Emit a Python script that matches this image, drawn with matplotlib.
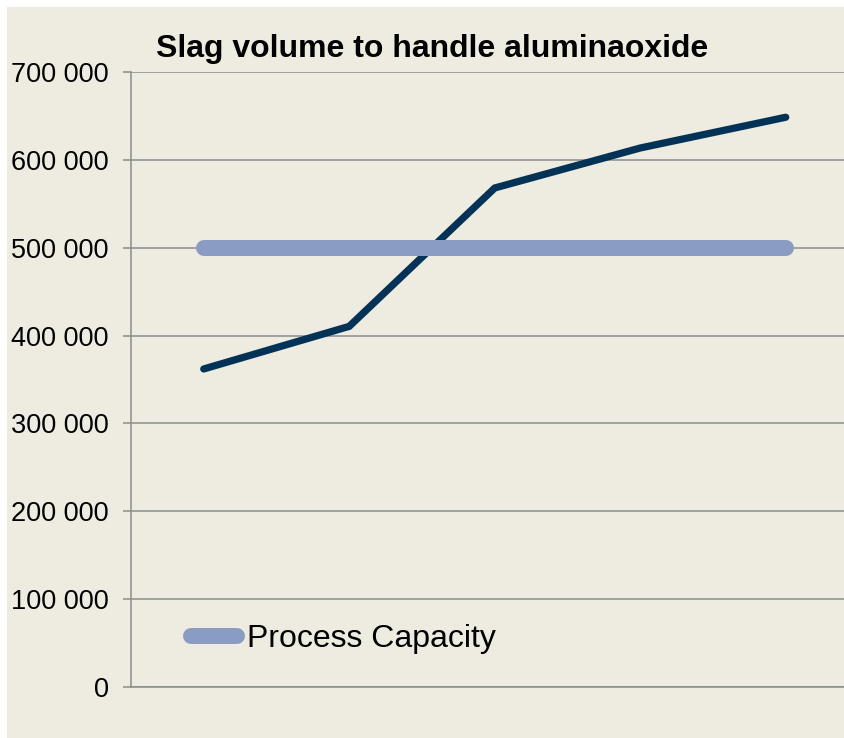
import matplotlib.pyplot as plt
from matplotlib.ticker import FuncFormatter
from matplotlib.patches import Rectangle
from matplotlib.lines import Line2D

plt.rcParams['font.family'] = ['Liberation Sans', 'DejaVu Sans']

categories = [1, 2, 3, 4, 5]
slag_volume = [362000, 410500, 568000, 613500, 648500]
process_capacity = [500000, 500000, 500000, 500000, 500000]
y_ticks = [0, 100000, 200000, 300000, 400000, 500000, 600000, 700000]

bg = '#EEEBE0'
grid_col = '#8C8C8C'
navy = '#003355'
cap_col = '#8A9CC2'

W, H = 845, 738
fig = plt.figure(figsize=(W / 100, H / 100), dpi=100)
fig.patch.set_facecolor('white')
# beige chart area, white margin at top and left
fig.patches.append(Rectangle((7 / W, 0), 1, 1 - 7 / H, transform=fig.transFigure,
                             facecolor=bg, edgecolor='none', zorder=-10))

left, right, top, bottom = 131, 858.5, 72, 687
ax = fig.add_axes([left / W, 1 - bottom / H, (right - left) / W, (bottom - top) / H])
ax.set_facecolor('none')
ax.set_zorder(1)

x = list(range(len(categories)))
ax.plot(x, slag_volume, color=navy, lw=5.2, solid_capstyle='round',
        solid_joinstyle='miter', zorder=3)
ax.plot(x, process_capacity, color=cap_col, lw=11.5, solid_capstyle='round', zorder=4)

ax.set_xlim(-0.5, len(categories) - 0.5)
ax.set_ylim(0, 700000)
ax.set_yticks(y_ticks)
ax.yaxis.set_major_formatter(FuncFormatter(lambda v, p: f'{int(v):,}'.replace(',', ' ')))
ax.tick_params(axis='y', length=6, width=1.1, color=grid_col, labelsize=19.5, pad=10)
ax.tick_params(axis='x', length=0, labelbottom=False)
ax.set_xticks([])
ax.grid(axis='y', color=grid_col, lw=1.1, zorder=1)
ax.set_axisbelow(True)
for s in ['top', 'right']:
    ax.spines[s].set_visible(False)
for s in ['left', 'bottom']:
    ax.spines[s].set_color(grid_col)
    ax.spines[s].set_linewidth(1.1)

fig.text(432 / W, 1 - 49 / H, 'Slag volume to handle aluminaoxide', ha='center',
         va='center', fontsize=23, fontweight='bold')

handle = Line2D([], [], color=cap_col, lw=11.5, solid_capstyle='round')
leg = ax.legend([handle], ['Process Capacity'], loc='center left',
                bbox_to_anchor=((191 - left) / (right - left), (bottom - 639) / (bottom - top)),
                frameon=False, fontsize=23, handlelength=1.45, handletextpad=0.3,
                borderaxespad=0, borderpad=0)

fig.savefig('out.png', dpi=100)
